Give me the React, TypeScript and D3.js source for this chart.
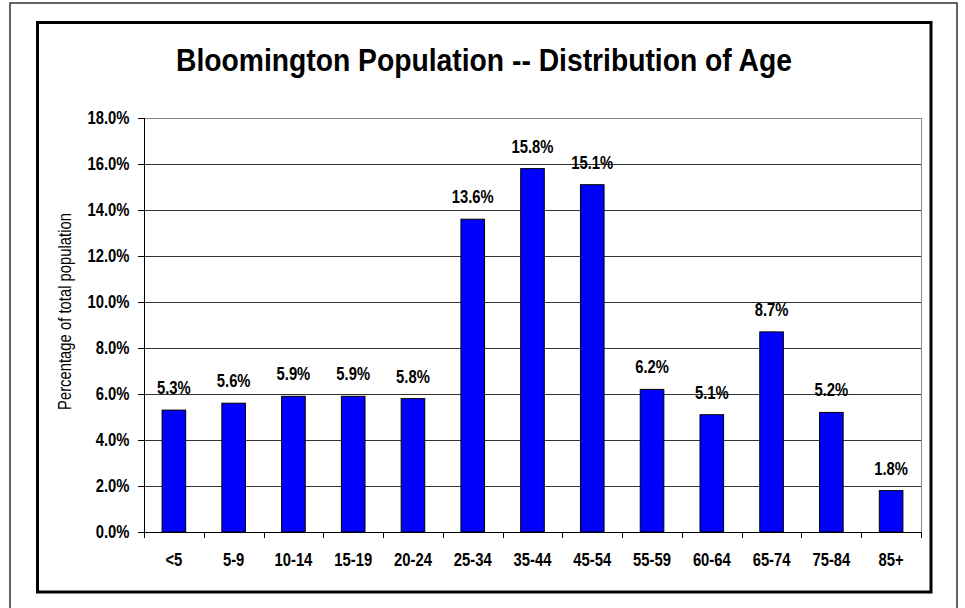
import React from "react";
import * as d3 from "d3";

const categories = ["<5", "5-9", "10-14", "15-19", "20-24", "25-34", "35-44", "45-54", "55-59", "60-64", "65-74", "75-84", "85+"];
const values = [5.3, 5.6, 5.9, 5.9, 5.8, 13.6, 15.8, 15.1, 6.2, 5.1, 8.7, 5.2, 1.8];
const yTicks = [0, 2, 4, 6, 8, 10, 12, 14, 16, 18];
const title = "Bloomington Population -- Distribution of Age";
const yTitle = "Percentage of total population";

const W = 965;
const H = 608;
const plot = { left: 144, right: 921, top: 118, bottom: 532 };
const FONT = "'Liberation Sans', Arial, sans-serif";
const SX = 0.8;

function T(props: { x: number; y: number; size: number; anchor?: string; rotate?: number; dy?: string; weight?: string | number; len?: number; children: React.ReactNode }) {
  const { x, y, size, anchor = "middle", rotate = 0, dy, weight = "bold", len, children } = props;
  return (
    <text
      transform={`translate(${x},${y})${rotate ? ` rotate(${rotate})` : ""}${len ? "" : ` scale(${SX},1)`}`}
      textAnchor={anchor}
      fontSize={size}
      fontWeight={weight}
      dy={dy}
      fill="#000"
      textLength={len}
      lengthAdjust={len ? "spacingAndGlyphs" : undefined}
    >
      {children}
    </text>
  );
}

export default function App() {
  const x = d3.scaleBand<string>().domain(categories).range([plot.left, plot.right]).paddingInner(0).paddingOuter(0);
  const y = d3.scaleLinear().domain([0, 18]).range([plot.bottom, plot.top]);
  const bw = x.bandwidth() * 0.395;
  const boundaries = categories.map((c) => x(c) as number).concat([plot.right]);

  return (
    <svg width={W} height={H} style={{ position: "absolute", left: 0, top: 0, background: "#fff" }} fontFamily={FONT}>
      <rect x={0} y={0} width={W} height={H} fill="#fff" />
      {/* outer frame */}
      <rect x={10} y={3} width={947} height={700} fill="none" stroke="#333" strokeWidth={1.5} />
      {/* chart frame */}
      <rect x={37.5} y={22.5} width={893.5} height={569.5} fill="none" stroke="#000" strokeWidth={3} />

      <T x={484} y={71} size={31} len={616}>{title}</T>

      {/* gridlines */}
      {yTicks.filter((t) => t > 0).map((t) => (
        <line key={"g" + t} x1={plot.left} x2={plot.right} y1={Math.round(y(t)) + 0.5} y2={Math.round(y(t)) + 0.5} stroke={t === 18 ? "#888" : "#333"} strokeWidth={1} />
      ))}
      {/* right border of plot */}
      <line x1={plot.right + 0.5} x2={plot.right + 0.5} y1={plot.top} y2={plot.bottom} stroke="#888" strokeWidth={1} />

      {/* bars */}
      {categories.map((c, i) => {
        const cx = (x(c) as number) + x.bandwidth() / 2;
        return (
          <g key={c}>
            <rect x={cx - bw / 2} y={y(values[i])} width={bw} height={plot.bottom - y(values[i])} fill="#0000FF" stroke="#000" strokeWidth={1} />
            <T x={cx} y={y(values[i]) - 16} size={18.5}>{values[i].toFixed(1)}%</T>
            <T x={cx} y={566} size={18.5}>{c}</T>
          </g>
        );
      })}

      {/* axes */}
      <line x1={plot.left + 0.5} x2={plot.left + 0.5} y1={plot.top} y2={plot.bottom} stroke="#000" strokeWidth={1} />
      <line x1={plot.left} x2={plot.right + 1} y1={plot.bottom + 0.5} y2={plot.bottom + 0.5} stroke="#000" strokeWidth={1} />
      {yTicks.map((t) => (
        <g key={"y" + t}>
          <line x1={plot.left - 6} x2={plot.left} y1={Math.round(y(t)) + 0.5} y2={Math.round(y(t)) + 0.5} stroke="#000" />
          <T x={129.5} y={y(t)} dy="0.35em" anchor="end" size={18.5}>{t.toFixed(1)}%</T>
        </g>
      ))}
      {boundaries.map((b, i) => (
        <line key={"xt" + i} x1={Math.round(b) + 0.5} x2={Math.round(b) + 0.5} y1={plot.bottom} y2={plot.bottom + 6} stroke="#000" />
      ))}

      <T x={70.5} y={311.5} rotate={-90} size={17.5} weight="normal" len={197}>{yTitle}</T>
    </svg>
  );
}
